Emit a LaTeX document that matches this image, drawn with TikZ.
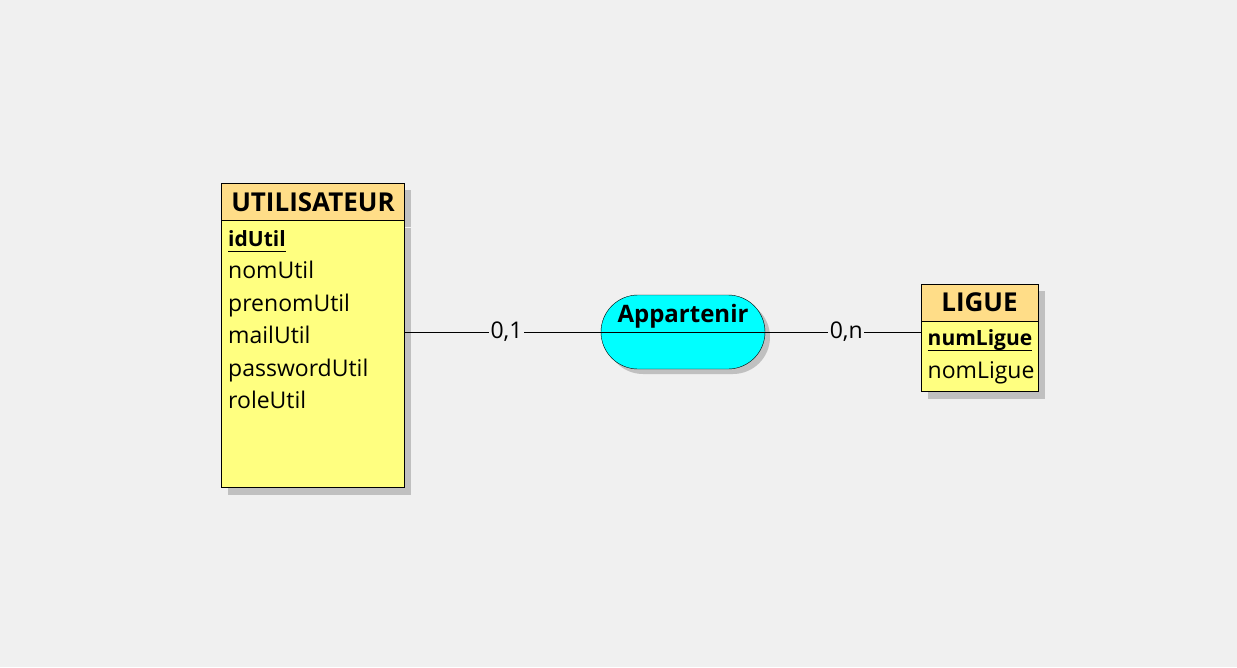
\documentclass[tikz,border=0pt]{standalone}
\usepackage{fontspec}
\setmainfont{Open Sans}
\usetikzlibrary{positioning,shapes.misc,shadows}
\definecolor{bggray}{HTML}{F0F0F0}
\definecolor{headorange}{HTML}{FFDD88}
\definecolor{bodyyellow}{HTML}{FFFF80}
\definecolor{shadowgray}{HTML}{C0C0C0}
\definecolor{relcyan}{HTML}{00FFFF}

\begin{document}
\begin{tikzpicture}[
    x=1pt, y=-1pt,
    shade7/.style={%
      drop shadow={shadow xshift=7pt, shadow yshift=-7pt, fill=shadowgray, opacity=1},
    },
    enthead/.style={%
      draw, rectangle, fill=headorange, shade7, inner sep=0, anchor=north west,
    },
    entname/.style={%
      anchor=base, inner sep=0, font=\fontsize{26}{30}\selectfont\bfseries,
    },
    entbody/.style={%
      draw, rectangle, fill=bodyyellow, shade7, inner sep=0, anchor=north west,
    },
    attr/.style={%
      inner sep=0, anchor=base west,
      font=\fontsize{23}{27}\selectfont,
    },
    pkattr/.style={%
      attr, font=\fontsize{21}{25}\selectfont\bfseries,
    },
    relation/.style={%
      draw, rounded rectangle, fill=relcyan, inner sep=0,
      minimum width=164, minimum height=74,
      drop shadow={shadow xshift=5pt, shadow yshift=-5pt, fill=shadowgray, opacity=1},
    },
    card/.style={%
      fill=bggray, inner sep=1.5, font=\fontsize{23}{27}\selectfont,
    },
  ]

    \fill [bggray] (0,0) rectangle (1237,667);

    \node [enthead, minimum width=183, minimum height=37] (util) at (221,183) {};
    \node [entname] (utilname) at (313,211) {UTILISATEUR};
    \node [entbody, minimum width=183, minimum height=267] (utilbody) at (util.south west) {};
    \node [pkattr] (idutil) at (228,246.5) {idUtil};
    \node [attr] (nomutil) at (228,278) {nomUtil};
    \node [attr] (prenomutil) at (228,311) {prenomUtil};
    \node [attr] (mailutil) at (228,343) {mailUtil};
    \node [attr] (passwordutil) at (228,376) {passwordUtil};
    \node [attr] (roleutil) at (228,408) {roleUtil};
    \draw ([yshift=-4.5pt]idutil.base west) -- ([yshift=-4.5pt]idutil.base east);

    \node [enthead, minimum width=117, minimum height=37] (ligue) at (921,283.5) {};
    \node [entname] (liguename) at (979.5,311.5) {LIGUE};
    \node [entbody, minimum width=117, minimum height=70.5] (liguebody) at (ligue.south west) {};
    \node [pkattr] (numligue) at (927.5,345) {numLigue};
    \node [attr] (nomligue) at (927.5,378) {nomLigue};
    \draw ([yshift=-5pt]numligue.base west) -- ([yshift=-5pt]numligue.base east);

    \node [relation] (appartenir) at (683,332) {};
    \node [anchor=base, inner sep=0, font=\fontsize{24}{28}\selectfont\bfseries] (appname) at (683,322.5) {Appartenir};
    \draw (appartenir.west) -- (appartenir.east);

    \draw (utilbody.east |- appartenir.west) -- (appartenir.west) node [card, pos=0.52] (card1) {0,1};
    \draw (appartenir.east) -- (liguebody.west |- appartenir.east) node [card, pos=0.52] (card2) {0,n};

\end{tikzpicture}
\end{document}
